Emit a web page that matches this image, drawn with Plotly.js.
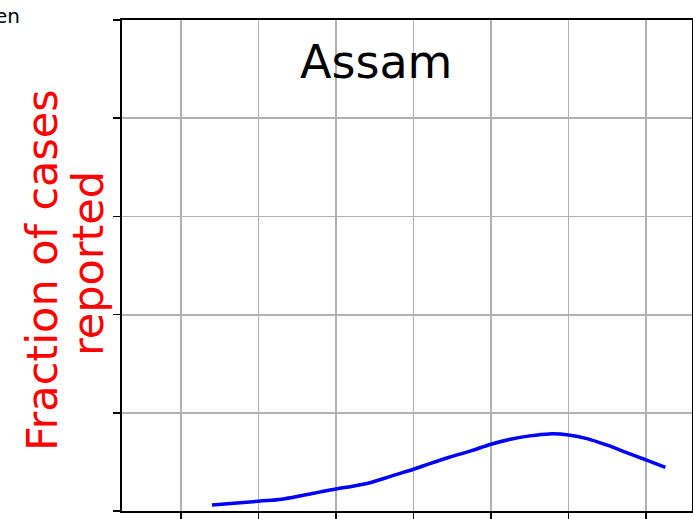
<!DOCTYPE html>
<html>
<head>
<meta charset="utf-8">
<script src="https://cdn.plot.ly/plotly-3.0.1.min.js"></script>
<style>
  html, body { margin: 0; padding: 0; background: #ffffff; }
  #chart { width: 693px; height: 519px; }
</style>
</head>
<body>
<div id="chart"></div>
<script>
// Days since the start of the series
const days = [8, 20, 26, 31, 36, 40, 44, 46, 49, 55, 60, 64, 69, 75, 80, 85, 90, 95, 100, 105, 110, 115, 120, 125];
// Estimated fraction of cases that were reported
const fractionReported = [0.012, 0.020, 0.024, 0.031, 0.039, 0.045, 0.050, 0.053, 0.058, 0.073, 0.085, 0.096,
  0.109, 0.123, 0.136, 0.146, 0.153, 0.157, 0.155, 0.147, 0.134, 0.119, 0.104, 0.089];

const stateName = 'Assam';
const yLabelLines = ['Fraction of cases', 'reported'];
const xTicks = [0, 20, 40, 60, 80, 100, 120];
const yTicks = [0, 0.2, 0.4, 0.6, 0.8, 1.0];

const font = 'DejaVu Sans, Verdana, sans-serif';

const trace = {
  x: days,
  y: fractionReported,
  type: 'scatter',
  mode: 'lines',
  line: { color: '#0000ff', width: 3.5, shape: 'spline', smoothing: 1.0 },
  hoverinfo: 'skip'
};

const axisCommon = {
  showline: true,
  mirror: true,
  linecolor: '#000000',
  linewidth: 2,
  ticks: 'outside',
  ticklen: 7,
  tickwidth: 1.6,
  tickcolor: '#000000',
  showticklabels: false,
  showgrid: true,
  gridcolor: '#b0b0b0',
  gridwidth: 1.8,
  zeroline: false,
  tickmode: 'array'
};

const layout = {
  width: 693,
  height: 519,
  margin: { l: 122, r: 1, t: 20, b: 8, pad: 0 },
  paper_bgcolor: '#ffffff',
  plot_bgcolor: '#ffffff',
  showlegend: false,
  font: { family: font, color: '#000000' },
  xaxis: Object.assign({}, axisCommon, { range: [-15.23, 131.87], tickvals: xTicks }),
  yaxis: Object.assign({}, axisCommon, { range: [0, 1], tickvals: yTicks }),
  annotations: [
    {
      text: stateName, xref: 'paper', yref: 'paper', x: 0.4456, y: 0.9145,
      xanchor: 'center', yanchor: 'middle', showarrow: false,
      font: { family: font, size: 46, color: '#000000' }
    },
    {
      text: yLabelLines[0], xref: 'paper', yref: 'paper', x: -0.1404, y: 0.4908,
      xanchor: 'center', yanchor: 'middle', showarrow: false, textangle: -90,
      font: { family: font, size: 43, color: '#ff0000' }
    },
    {
      text: yLabelLines[1], xref: 'paper', yref: 'paper', x: -0.0596, y: 0.503,
      xanchor: 'center', yanchor: 'middle', showarrow: false, textangle: -90,
      font: { family: font, size: 43, color: '#ff0000' }
    },
    {
      text: 'en', xref: 'paper', yref: 'paper', x: -0.1754, y: 1.0367,
      xanchor: 'right', yanchor: 'top', showarrow: false,
      font: { family: font, size: 20, color: '#000000' }
    }
  ]
};

Plotly.newPlot('chart', [trace], layout, { staticPlot: true, displayModeBar: false });
</script>
</body>
</html>
